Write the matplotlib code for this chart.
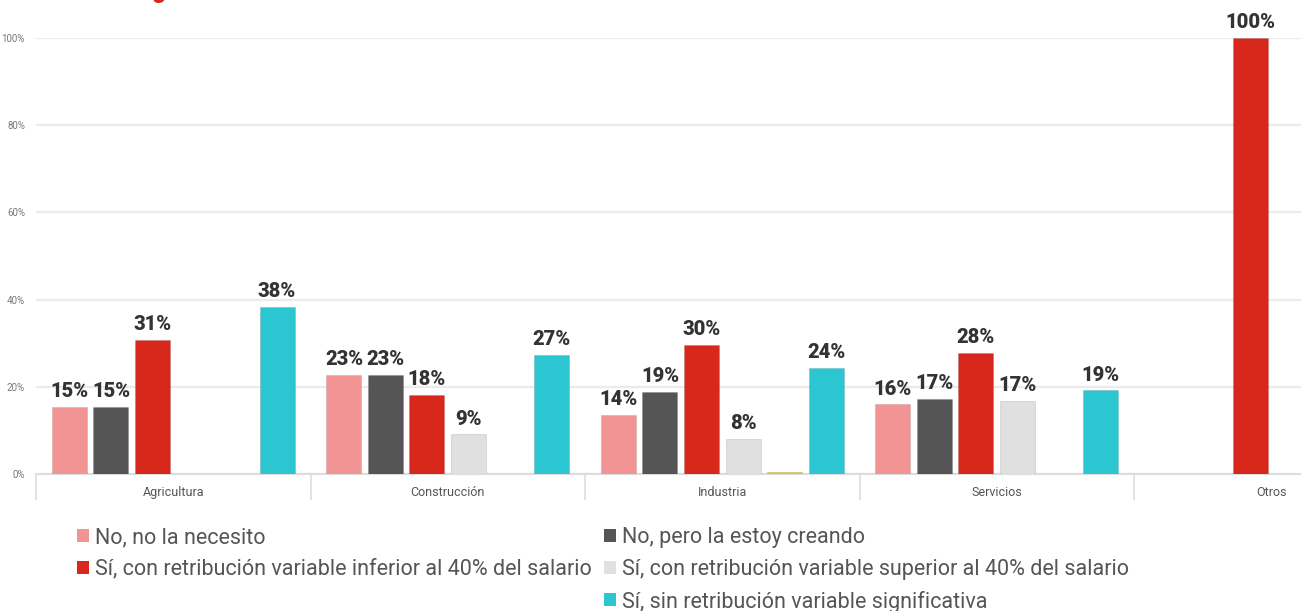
import numpy as np
import matplotlib.pyplot as plt
from matplotlib.patches import Patch

plt.rcParams['font.family'] = ['Roboto', 'DejaVu Sans']

# sectors and answer shares (%)
sectores = ["Agricultura", "Construcción", "Industria", "Servicios", "Otros"]
series = [
    "No, no la necesito",
    "No, pero la estoy creando",
    "Sí, con retribución variable inferior al 40% del salario",
    "Sí, con retribución variable superior al 40% del salario",
    "Otros",
    "Sí, sin retribución variable significativa",
]
no_necesito = [15.4, 22.7, 13.6, 16.0, 0]
creando = [15.4, 22.7, 18.9, 17.2, 0]
inferior_40 = [30.8, 18.2, 29.7, 27.8, 100]
superior_40 = [0, 9.1, 8.1, 16.8, 0]
otra = [0, 0, 0.4, 0, 0]
sin_variable = [38.4, 27.3, 24.3, 19.2, 0]
valores = [no_necesito, creando, inferior_40, superior_40, otra, sin_variable]
colores = ["#f29494", "#555555", "#d8271b", "#e0e0e0", "#f3c016", "#2bc6d2"]
con_etiqueta = [True, True, True, True, False, True]

W, H = 1301, 611
fig = plt.figure(figsize=(W / 100, H / 100), dpi=100)
ax = fig.add_axes([36 / W, 1 - 474 / H, 1 - 36 / W, (474 - 38) / H])

x = np.arange(len(sectores))
paso = 0.1512
ancho = 0.1275
for k, (vals, col) in enumerate(zip(valores, colores)):
    pos = x + 0.122 + paso * k
    for xi, v in zip(pos, vals):
        if v <= 0:
            continue
        ax.bar(xi, v, width=ancho, color=col, edgecolor="#00000018",
               linewidth=0.8, zorder=3)
        if con_etiqueta[k]:
            ax.text(xi, v + 1.3, f"{round(v)}%", ha="center", va="bottom",
                    fontsize=14.5, fontweight="black", color="#333333",
                    zorder=4, clip_on=False)

ax.set_xlim(0, (W - 36) / 274.5)
ax.set_ylim(0, 100)
ax.set_yticks([0, 20, 40, 60, 80, 100])
ax.set_yticklabels(["0%", "20%", "40%", "60%", "80%", "100%"])
ax.tick_params(axis="y", length=0, pad=8, labelsize=7, labelcolor="#777777")
ax.tick_params(axis="x", length=0, bottom=False, labelbottom=False)
ax.grid(axis="y", color="#ebebeb", linewidth=1.6, zorder=0)
for s in ["top", "right", "left"]:
    ax.spines[s].set_visible(False)
ax.spines["bottom"].set_color("#dddddd")
ax.spines["bottom"].set_linewidth(1.5)

# category boxes below the axis
ax.vlines(np.arange(len(sectores) + 1), -0.06, 0, transform=ax.get_xaxis_transform(),
          color="#dddddd", linewidth=1.2, clip_on=False)
for i, s in enumerate(sectores):
    ax.text(i + 0.5, -0.042, s, transform=ax.get_xaxis_transform(), ha="center",
            va="center", fontsize=9, color="#555555")

# legend laid out in two columns
orden = [0, 2, None, 1, 3, 5]
handles, labels = [], []
for o in orden:
    if o is None:
        handles.append(Patch(facecolor="none", edgecolor="none"))
        labels.append("")
    else:
        handles.append(Patch(facecolor=colores[o], edgecolor="none"))
        labels.append(series[o])
fig.legend(handles, labels, ncol=2, loc="upper left", bbox_to_anchor=(62 / W, 1 - 512 / H),
           frameon=False, fontsize=15.5, labelcolor="#555555", handlelength=0.55,
           handleheight=0.55, handletextpad=0.3, columnspacing=0.55, labelspacing=0.5,
           borderpad=0.2)

# title fragment cut off at the top
fig.text(151 / W, 1 + 2 / H, "g", color="#d8271b", fontsize=18, fontweight="bold",
         ha="left", va="baseline")

fig.savefig("out.png", dpi=100)
